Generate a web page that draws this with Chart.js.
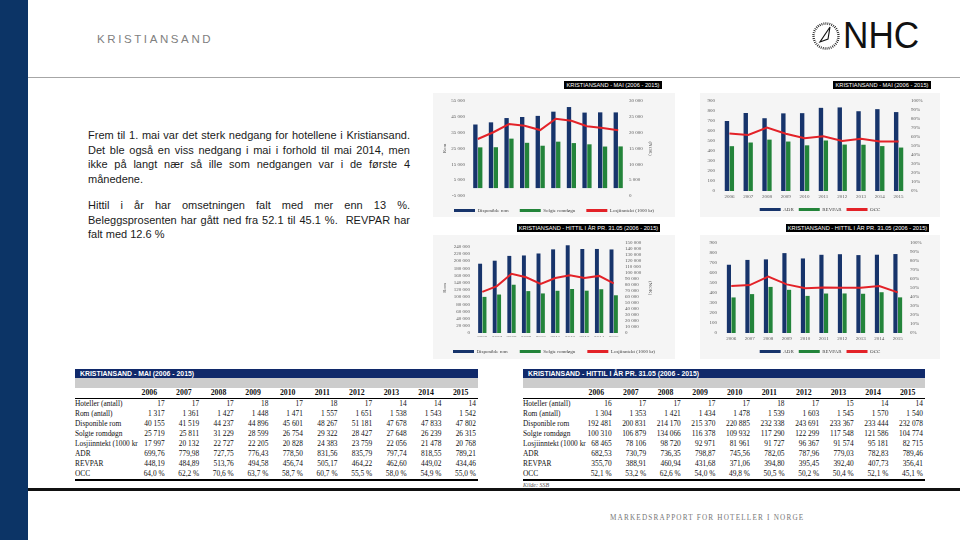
<!DOCTYPE html>
<html>
<head>
<meta charset="utf-8">
<script src="https://cdn.jsdelivr.net/npm/chart.js@4.4.1/dist/chart.umd.min.js"></script>
<style>
body{margin:0;width:960px;height:540px;position:relative;background:#fff;overflow:hidden;font-family:"Liberation Sans",Arial,sans-serif}
.abs{position:absolute}
#side{left:0;top:0;width:28px;height:540px;background:#0c3466}
#head{left:97px;top:33px;font-size:11.5px;letter-spacing:2.6px;color:#808080}
#hline{left:28px;top:77px;width:932px;height:1px;background:#a6a6a6}
#txt{left:88px;top:128px;width:322px;font-size:11px;line-height:14.7px;color:#1a1a1a}
#txt .j{text-align:justify;text-align-last:justify}
.bg{background:#f5f5f5}
.ttl{background:#000;color:#fff;font-size:5.7px;line-height:8px;height:8px;text-align:center;white-space:nowrap}
canvas{position:absolute}
table{position:absolute;border-collapse:collapse;table-layout:fixed;font-family:"Liberation Serif","Times New Roman",serif;font-size:7.4px;color:#111}
td{padding:0;height:10px;line-height:10px;white-space:nowrap;overflow:visible}
td.v{text-align:right;padding-right:2px}
tr.hd td{background:#10296a;color:#fff;font-family:"Liberation Sans",Arial,sans-serif;font-weight:bold;font-size:6.9px;height:9px;line-height:9px;padding-left:5px}
tr.gr td{background:#cccccc;height:10px}
tr.yr td{font-weight:bold;font-size:7.8px;text-align:center;border-bottom:1px solid #000}
tr.last td{border-bottom:2px solid #000}
#thick{left:28px;top:488px;width:932px;height:2.5px;background:#111}
#kilde{left:523px;top:482px;font-family:"Liberation Serif",serif;font-style:italic;font-size:6px;color:#555}
#foot{left:610px;top:514px;font-family:"Liberation Serif",serif;font-size:7.2px;letter-spacing:1.2px;color:#777}
#nhc{left:843px;top:17px;font-size:37px;line-height:37px;color:#111;transform:scaleX(0.95);transform-origin:left top}
</style>
</head>
<body>
<div id="side" class="abs"></div>
<div id="head" class="abs">KRISTIANSAND</div>
<svg class="abs" style="left:811px;top:21px" width="30" height="30" viewBox="0 0 30 30">
  <circle cx="15" cy="15" r="12.5" fill="none" stroke="#111" stroke-width="2.4" stroke-dasharray="0.8 1.2"/>
  <polygon points="19,6 9,21 17,18" fill="none" stroke="#111" stroke-width="1.1"/>
</svg>
<div id="nhc" class="abs">NHC</div>
<div id="hline" class="abs"></div>

<div id="txt" class="abs">
<div class="j">Frem til 1. mai var det sterk nedgang for hotellene i Kristiansand.</div>
<div class="j">Det ble også en viss nedgang i mai i forhold til mai 2014, men</div>
<div class="j">ikke på langt nær så ille som nedgangen var i de første 4</div>
<div>månedene.</div>
<div style="height:11px"></div>
<div class="j">Hittil i år har omsetningen falt med mer enn 13 %.</div>
<div class="j">Beleggsprosenten har gått ned fra 52.1 til 45.1 %.&nbsp; REVPAR har</div>
<div>falt med 12.6 %</div>
</div>

<div class="abs bg" style="left:433px;top:93px;width:242px;height:124px"></div>
<div class="abs bg" style="left:700px;top:93px;width:240px;height:124px"></div>
<div class="abs bg" style="left:433px;top:235px;width:242px;height:124px"></div>
<div class="abs bg" style="left:700px;top:235px;width:240px;height:124px"></div>

<canvas id="c1" width="242" height="130" style="left:433px;top:93px"></canvas>
<canvas id="c2" width="250" height="129" style="left:695px;top:93px"></canvas>
<canvas id="c3" width="242" height="129" style="left:433px;top:235px"></canvas>
<canvas id="c4" width="250" height="129" style="left:695px;top:235px"></canvas>

<div class="abs ttl" style="left:564px;top:81px;width:98px">KRISTIANSAND - MAI (2006 - 2015)</div>
<div class="abs ttl" style="left:833px;top:81px;width:98px">KRISTIANSAND - MAI (2006 - 2015)</div>
<div class="abs ttl" style="left:517px;top:224px;width:143px">KRISTIANSAND - HITTIL I ÅR PR. 31.05 (2006 - 2015)</div>
<div class="abs ttl" style="left:786px;top:224px;width:143px">KRISTIANSAND - HITTIL I ÅR PR. 31.05 (2006 - 2015)</div>

<table id="t1" style="left:75px;top:369px;width:403px"></table>
<table id="t2" style="left:523px;top:369px;width:402px"></table>
<div id="kilde" class="abs">Kilde: SSB</div>
<div id="thick" class="abs"></div>
<div id="foot" class="abs">MARKEDSRAPPORT FOR HOTELLER I NORGE</div>

<script>
// år
var years = ['2006', '2007', '2008', '2009', '2010', '2011', '2012', '2013', '2014', '2015'];

// Kristiansand - mai
var hotellerMai = [17, 17, 17, 18, 17, 18, 17, 14, 14, 14];
var romMai = [1317, 1361, 1427, 1448, 1471, 1557, 1651, 1538, 1543, 1542];
var dispRomMai = [40155, 41519, 44237, 44896, 45601, 48267, 51181, 47678, 47833, 47802];
var solgteMai = [25719, 25811, 31229, 28599, 26754, 29322, 28427, 27648, 26239, 26315];
var losjiMai = [17997, 20132, 22727, 22205, 20828, 24383, 23759, 22056, 21478, 20768];
var adrMai = [699.76, 779.98, 727.75, 776.43, 778.50, 831.56, 835.79, 797.74, 818.55, 789.21];
var revparMai = [448.19, 484.89, 513.76, 494.58, 456.74, 505.17, 464.22, 462.60, 449.02, 434.46];
var occMai = [64.0, 62.2, 70.6, 63.7, 58.7, 60.7, 55.5, 58.0, 54.9, 55.0];

// Kristiansand - hittil i år pr. 31.05
var hotellerYtd = [16, 17, 17, 17, 17, 18, 17, 15, 14, 14];
var romYtd = [1304, 1353, 1421, 1434, 1478, 1539, 1603, 1545, 1570, 1540];
var dispRomYtd = [192481, 200831, 214170, 215370, 220885, 232338, 243691, 233367, 233444, 232078];
var solgteYtd = [100310, 106879, 134066, 116378, 109932, 117290, 122299, 117548, 121586, 104774];
var losjiYtd = [68465, 78106, 98720, 92971, 81961, 91727, 96367, 91574, 95181, 82715];
var adrYtd = [682.53, 730.79, 736.35, 798.87, 745.56, 782.05, 787.96, 779.03, 782.83, 789.46];
var revparYtd = [355.70, 388.91, 460.94, 431.68, 371.06, 394.80, 395.45, 392.40, 407.73, 356.41];
var occYtd = [52.1, 53.2, 62.6, 54.0, 49.8, 50.5, 50.2, 50.4, 52.1, 45.1];

// aksemerker
var romTicksMai = [-5000, 5000, 15000, 25000, 35000, 45000, 55000];
var nokTicksMai = [0, 5000, 10000, 15000, 20000, 25000, 30000];
var romTicksYtd = [0, 20000, 40000, 60000, 80000, 100000, 120000, 140000, 160000, 180000, 200000, 220000, 240000];
var nokTicksYtd = [0, 10000, 20000, 30000, 40000, 50000, 60000, 70000, 80000, 90000, 100000, 110000, 120000, 130000, 140000, 150000];
var prisTicks = [0, 100, 200, 300, 400, 500, 600, 700, 800, 900];
var occTicks = [0, 10, 20, 30, 40, 50, 60, 70, 80, 90, 100];

var rowLabels = ['Hoteller (antall)', 'Rom (antall)', 'Disponible rom', 'Solgte romdøgn', 'Losjiinntekt (1000 kr', 'ADR', 'REVPAR', 'OCC'];
var romNames = ['Disponible rom', 'Solgte romdøgn', 'Losjiinntekt (1000 kr)'];
var prisNames = ['ADR', 'REVPAR', 'OCC'];

var navy = '#17346b', green = '#23843a', red = '#e32228', grey = '#595959';
var serif = '"Liberation Serif", "Times New Roman", serif';

function fmtInt(n) {
    var s = Math.abs(Math.round(n)).toString().replace(/\B(?=(\d{3})+(?!\d))/g, ' ');
    return (n < 0 ? '-' : '') + s;
}
function fmtDec(n) { return n.toFixed(2).replace('.', ','); }
function fmtPct(n) { return n.toFixed(1).replace('.', ',') + ' %'; }

// tabeller
function fillTable(id, title, rows) {
    var t = document.getElementById(id);
    var h = '<colgroup><col style="width:' + (id == 't1' ? 57 : 56) + 'px">';
    for (var i = 0; i < 10; i++) h += '<col>';
    h += '</colgroup>';
    h += '<tr class="hd"><td colspan="11">' + title + '</td></tr>';
    h += '<tr class="gr"><td colspan="11"></td></tr>';
    h += '<tr class="yr"><td></td>' + years.map(function (y) { return '<td>' + y + '</td>'; }).join('') + '</tr>';
    rows.forEach(function (r, k) {
        h += '<tr' + (k == rows.length - 1 ? ' class="last"' : '') + '><td>' + rowLabels[k] + '</td>';
        r.vals.forEach(function (v) { h += '<td class="v">' + r.f(v) + '</td>'; });
        h += '</tr>';
    });
    t.innerHTML = h;
}
fillTable('t1', 'KRISTIANSAND - MAI (2006 - 2015)', [
    {vals: hotellerMai, f: fmtInt}, {vals: romMai, f: fmtInt}, {vals: dispRomMai, f: fmtInt},
    {vals: solgteMai, f: fmtInt}, {vals: losjiMai, f: fmtInt}, {vals: adrMai, f: fmtDec},
    {vals: revparMai, f: fmtDec}, {vals: occMai, f: fmtPct}
]);
fillTable('t2', 'KRISTIANSAND - HITTIL I ÅR PR. 31.05 (2006 - 2015)', [
    {vals: hotellerYtd, f: fmtInt}, {vals: romYtd, f: fmtInt}, {vals: dispRomYtd, f: fmtInt},
    {vals: solgteYtd, f: fmtInt}, {vals: losjiYtd, f: fmtInt}, {vals: adrYtd, f: fmtDec},
    {vals: revparYtd, f: fmtDec}, {vals: occYtd, f: fmtPct}
]);

// diagrammer
function comboChart(id, o) {
    var font = {family: serif, size: 5};
    var axisTitle = function (txt, pad) {
        return txt ? {display: true, text: txt, color: grey, font: font, padding: {top: pad, bottom: 0}} : {display: false};
    };
    var setTicks = function (list) {
        return function (s) { s.ticks = list.map(function (v) { return {value: v}; }); };
    };
    return new Chart(document.getElementById(id), {
        type: 'bar',
        data: {
            labels: years,
            datasets: [
                {label: o.names[0], data: o.bar1, backgroundColor: navy, yAxisID: 'y', order: 2, categoryPercentage: o.cat, barPercentage: 0.9},
                {label: o.names[1], data: o.bar2, backgroundColor: green, yAxisID: 'y', order: 2, categoryPercentage: o.cat, barPercentage: 0.9},
                {type: 'line', label: o.names[2], data: o.line, borderColor: red, backgroundColor: red, borderWidth: 2, pointRadius: 0, yAxisID: 'y2', order: 1}
            ]
        },
        options: {
            responsive: false,
            animation: false,
            devicePixelRatio: 1,
            layout: {padding: {top: o.top, left: 0, right: 0, bottom: 0}},
            plugins: {
                tooltip: {enabled: false},
                legend: {
                    position: 'bottom',
                    labels: {
                        boxWidth: 21, boxHeight: 3, padding: o.lp, font: font, color: '#404040',
                        sort: function (a, b) { return a.datasetIndex - b.datasetIndex; },
                        generateLabels: function (chart) {
                            var items = Chart.defaults.plugins.legend.labels.generateLabels(chart);
                            items.forEach(function (it) { it.lineWidth = 0; });
                            return items;
                        }
                    }
                }
            },
            scales: {
                x: {
                    grid: {display: false, drawTicks: false}, border: {display: false},
                    ticks: {font: font, color: grey, padding: o.xpad, maxRotation: 0, autoSkip: false},
                    afterFit: function (s) { s.height = o.xh; }
                },
                y: {
                    position: 'left', min: o.y[0], max: o.y[1],
                    grid: {display: false, drawTicks: false}, border: {display: false},
                    ticks: {font: font, color: grey, padding: 5, autoSkip: false, callback: function (v) { return fmtInt(v); }},
                    afterBuildTicks: setTicks(o.yt),
                    title: axisTitle(o.lt, 9),
                    afterFit: function (s) { s.width = o.lw; }
                },
                y2: {
                    position: 'right', min: o.y2[0], max: o.y2[1],
                    grid: {display: false, drawTicks: false}, border: {display: false},
                    ticks: {font: font, color: grey, padding: o.rpad, autoSkip: false, callback: o.y2f},
                    afterBuildTicks: setTicks(o.y2t),
                    title: axisTitle(o.rt, 22),
                    afterFit: function (s) { s.width = o.rw; }
                }
            }
        }
    });
}

var pct = function (v) { return v + '%'; };

comboChart('c1', {names: romNames, bar1: dispRomMai, bar2: solgteMai, line: losjiMai, cat: 0.62,
    top: 8, lp: 11, xh: 1, xpad: -4, lw: 37, rw: 49, rpad: 3,
    y: [-5000, 55000], yt: romTicksMai, y2: [0, 30000], y2t: nokTicksMai, y2f: fmtInt, lt: 'Rom', rt: '(NOK)'});
comboChart('c2', {names: prisNames, bar1: adrMai, bar2: revparMai, line: occMai, cat: 0.52,
    top: 7, lp: 5, xh: 11, xpad: 3, lw: 25, rw: 37, rpad: 3,
    y: [0, 900], yt: prisTicks, y2: [0, 100], y2t: occTicks, y2f: pct});
comboChart('c3', {names: romNames, bar1: dispRomYtd, bar2: solgteYtd, line: losjiYtd, cat: 0.6,
    top: 8, lp: 12, xh: 4, xpad: 2, lw: 42, rw: 54, rpad: 4,
    y: [0, 250000], yt: romTicksYtd, y2: [0, 150000], y2t: nokTicksYtd, y2f: fmtInt, lt: 'Rom', rt: '(NOK)'});
comboChart('c4', {names: prisNames, bar1: adrYtd, bar2: revparYtd, line: occYtd, cat: 0.5,
    top: 7, lp: 5, xh: 11, xpad: 3, lw: 27, rw: 38, rpad: 3,
    y: [0, 900], yt: prisTicks, y2: [0, 100], y2t: occTicks, y2f: pct});
</script>
</body>
</html>
